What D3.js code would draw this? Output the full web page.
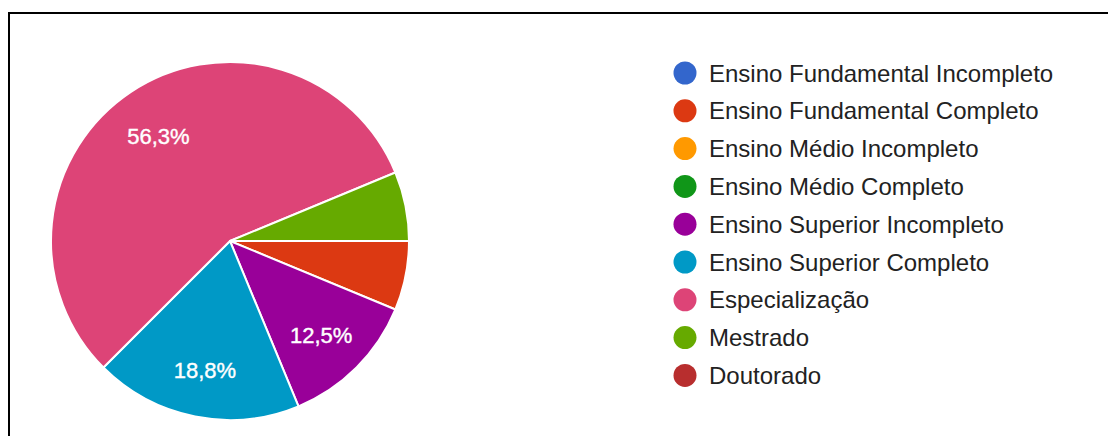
<!DOCTYPE html>
<html>
<head>
<meta charset="utf-8">
<script src="https://cdn.jsdelivr.net/npm/d3@7"></script>
<style>
  html, body { margin: 0; padding: 0; background: #fff; }
  svg { display: block; }
</style>
</head>
<body>
<svg id="chart" width="1108" height="436"></svg>
<script>
// Response categories (legend order) and how many answers each received
const categories = [
  "Ensino Fundamental Incompleto",
  "Ensino Fundamental Completo",
  "Ensino Médio Incompleto",
  "Ensino Médio Completo",
  "Ensino Superior Incompleto",
  "Ensino Superior Completo",
  "Especialização",
  "Mestrado",
  "Doutorado"
];
const counts = [0, 1, 0, 0, 2, 3, 9, 1, 0];
const palette = [
  "#3366cc", "#dc3912", "#ff9900", "#109618", "#990099",
  "#0099c6", "#dd4477", "#66aa00", "#b82e2e"
];

const svg = d3.select("#chart");
const W = 1108, H = 436;

// frame lines along the left and top edges
svg.append("rect")
  .attr("x", 9).attr("y", 13)
  .attr("width", W + 20).attr("height", H + 20)
  .attr("fill", "none")
  .attr("stroke", "#000")
  .attr("stroke-width", 2);

const cx = 230, cy = 241, R = 179;
const total = d3.sum(counts);

const data = categories.map((c, i) => ({ name: c, value: counts[i], color: palette[i] }));

const pie = d3.pie()
  .sort(null)
  .value(d => d.value)
  .startAngle(Math.PI / 2)
  .endAngle(Math.PI / 2 + 2 * Math.PI);

const arcs = pie(data).filter(a => a.data.value > 0);

const arc = d3.arc().innerRadius(0).outerRadius(R);
const labelArc = d3.arc().innerRadius(R * 0.72).outerRadius(R * 0.72);

const g = svg.append("g").attr("transform", `translate(${cx},${cy})`);

g.selectAll("path.slice")
  .data(arcs)
  .join("path")
  .attr("class", "slice")
  .attr("d", arc)
  .attr("fill", d => d.data.color)
  .attr("stroke", "#fff")
  .attr("stroke-width", 2)
  .attr("stroke-linejoin", "round");

const fmt = v => (v / total * 100).toFixed(1).replace(".", ",") + "%";

// percentage labels on the larger slices
g.selectAll("text.pct")
  .data(arcs.filter(a => a.data.value / total >= 0.1))
  .join("text")
  .attr("class", "pct")
  .attr("transform", d => {
    const [x, y] = labelArc.centroid(d);
    return `translate(${x},${y + 3})`;
  })
  .attr("text-anchor", "middle")
  .attr("dominant-baseline", "central")
  .attr("fill", "#fff")
  .attr("stroke", "#fff")
  .attr("stroke-width", 0.4)
  .attr("font-family", "Arial, 'Liberation Sans', sans-serif")
  .attr("font-size", 22)
  .text(d => fmt(d.data.value));

// legend
const legend = svg.append("g").attr("transform", "translate(685,73)");
const rows = legend.selectAll("g.row")
  .data(data)
  .join("g")
  .attr("class", "row")
  .attr("transform", (d, i) => `translate(0,${i * 37.8})`);

rows.append("circle")
  .attr("r", 11.5)
  .attr("fill", d => d.color);

rows.append("text")
  .attr("x", 24)
  .attr("dominant-baseline", "central")
  .attr("fill", "#222")
  .attr("font-family", "Arial, 'Liberation Sans', sans-serif")
  .attr("font-size", 24)
  .text(d => d.name);
</script>
</body>
</html>
